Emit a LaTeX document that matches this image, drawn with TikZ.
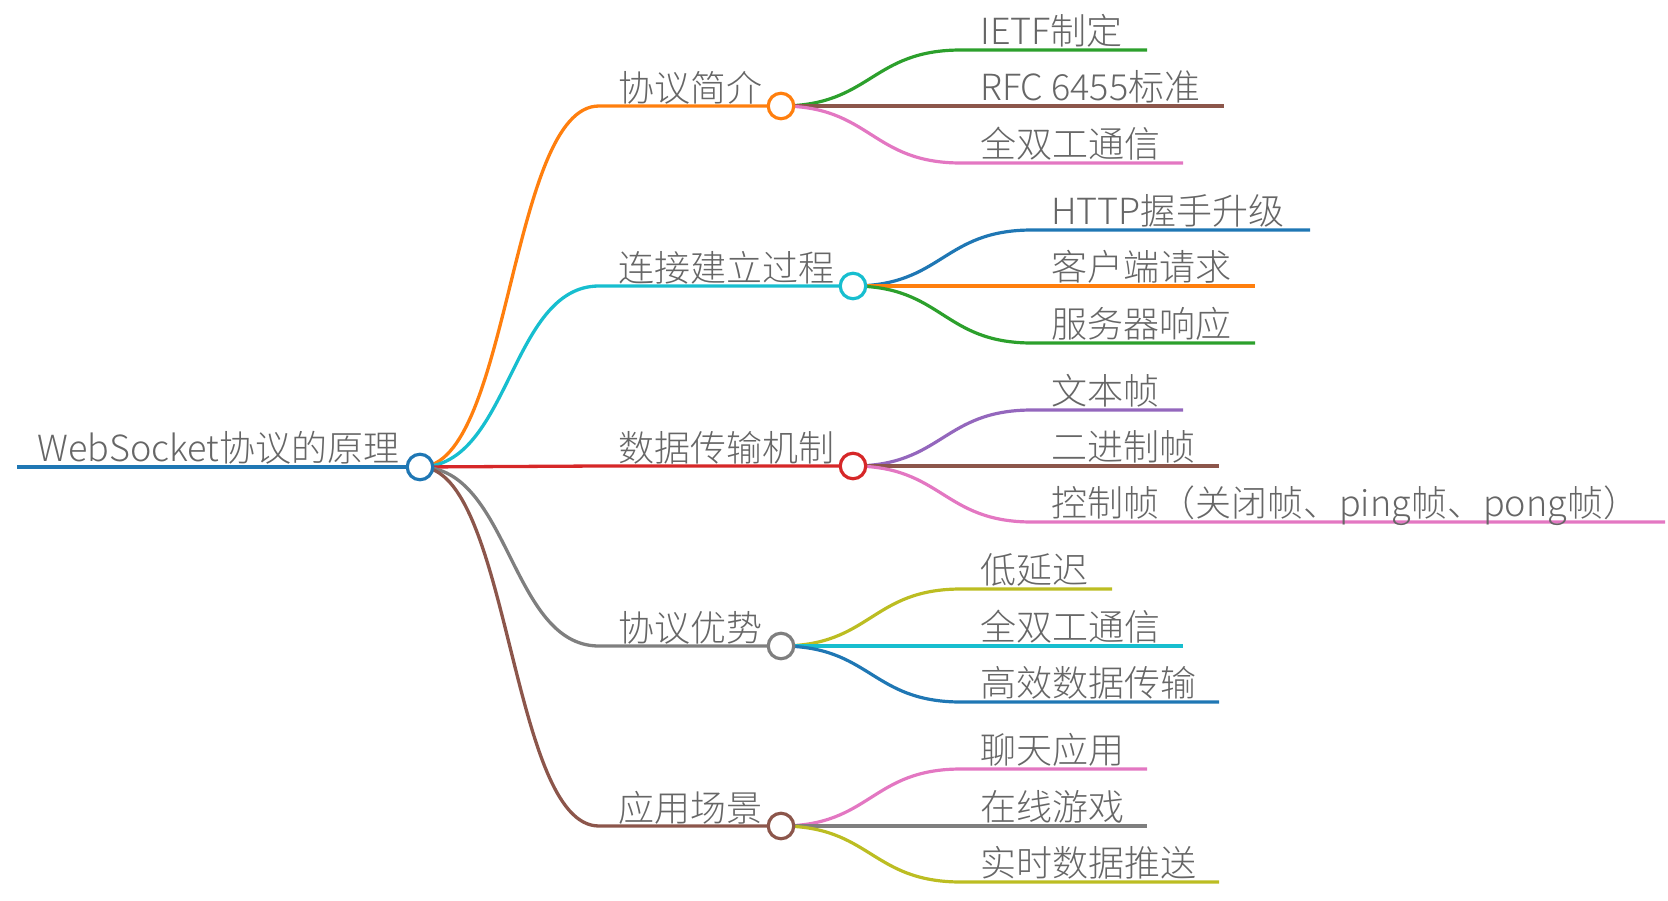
\documentclass[tikz,border=0pt]{standalone}
\usepackage{fontspec}
\setmainfont{Noto Sans CJK SC}[UprightFont={* Light}]
\definecolor{cB}{HTML}{1F77B4}
\definecolor{cO}{HTML}{FF7F0E}
\definecolor{cGr}{HTML}{2CA02C}
\definecolor{cR}{HTML}{D62728}
\definecolor{cPu}{HTML}{9467BD}
\definecolor{cBr}{HTML}{8C564B}
\definecolor{cP}{HTML}{E377C2}
\definecolor{cG}{HTML}{7F7F7F}
\definecolor{cOl}{HTML}{BCBD22}
\definecolor{cC}{HTML}{17BECF}
\definecolor{textgray}{HTML}{666666}
\begin{document}
\begin{tikzpicture}[x=1pt,y=-1pt,
  txt/.style={anchor=base west, inner sep=0pt, text=textgray, font=\fontsize{36}{36}\selectfont},
  dot/.style={circle, fill=white, line width=3.2pt, minimum size=25.5pt, inner sep=0pt},
  lk/.style={line width=3.3pt},
  lf/.style={line width=3.2pt}]
\useasboundingbox (0,0) rectangle (1668,900);
% root
\coordinate (root) at (420,467);
\coordinate (rootS) at (17,467);
\node[txt] (rootT) at (37,461) {WebSocket协议的原理};
% level 1
\foreach \id/\yy/\cx/\col/\lbl in {a/106/781/cO/协议简介, b/286/853/cC/连接建立过程, c/466/853/cR/数据传输机制, d/646/781/cG/协议优势, e/826/781/cBr/应用场景}{
  \coordinate (\id) at (\cx,\yy);
  \coordinate (\id S) at (599,\yy);
  \draw[\col, lk] (root) .. controls (510,467) and (510,\yy) .. (\id S) -- (\id);
  \node[txt] (\id T) at (618,\yy-5) {\lbl};
}
% level 2
\foreach \p/\py/\pcx/\k/\cy/\sx/\ex/\col/\lbl in {
  a/106/781/1/50/961/1147/cGr/IETF制定,
  a/106/781/2/106/961/1224/cBr/RFC 6455标准,
  a/106/781/3/163/961/1183/cP/全双工通信,
  b/286/853/1/230/1032/1310/cB/HTTP握手升级,
  b/286/853/2/286/1032/1255/cO/客户端请求,
  b/286/853/3/343/1032/1255/cGr/服务器响应,
  c/466/853/1/410/1032/1183/cPu/文本帧,
  c/466/853/2/466/1032/1219/cBr/二进制帧,
  c/466/853/3/522/1032/1665/cP/控制帧（关闭帧、ping帧、pong帧）,
  d/646/781/1/589/961/1112/cOl/低延迟,
  d/646/781/2/646/961/1183/cC/全双工通信,
  d/646/781/3/702/961/1219/cB/高效数据传输,
  e/826/781/1/769/961/1147/cP/聊天应用,
  e/826/781/2/826/961/1147/cG/在线游戏,
  e/826/781/3/882/961/1219/cOl/实时数据推送}{
  \pgfmathsetmacro\mx{(\pcx+\sx)/2}
  \coordinate (\p\k S) at (\sx,\cy);
  \coordinate (\p\k E) at (\ex,\cy);
  \draw[\col, lf] (\p) .. controls (\mx,\py) and (\mx,\cy) .. (\p\k S) -- (\p\k E);
  \node[txt] (\p\k T) at (\sx+19,\cy-6) {\lbl};
}
% root line and circles
\draw[cB, line width=4pt] (rootS) -- (root);
\node[dot, draw=cB] (rootC) at (root) {};
\foreach \id/\col in {a/cO, b/cC, c/cR, d/cG, e/cBr}{
  \node[dot, draw=\col] (\id C) at (\id) {};
}
\end{tikzpicture}
\end{document}
